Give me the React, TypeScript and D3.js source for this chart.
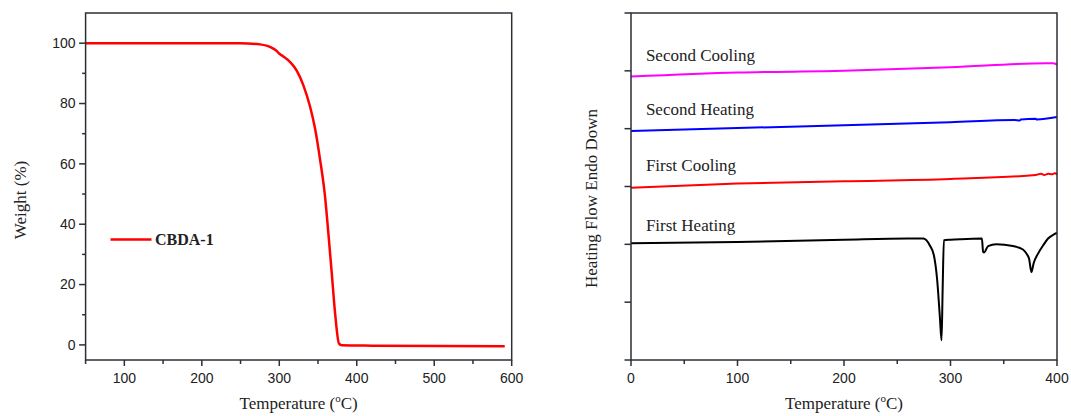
import React from "react";
import * as d3 from "d3";

// TGA data (temperature °C, weight %)
const tgaTemp = [50, 150, 249, 275, 292.3, 297.5, 299.5, 305.2, 313.8, 322.5, 331, 339.7, 346.1, 352.6, 359, 363.3, 367.7, 372, 377.1, 380.6, 420, 507.5, 591];
const tgaWeight = [100, 100, 100, 99.6, 98.2, 97.2, 96.6, 95.6, 93.8, 90.9, 86.1, 79.0, 71.8, 61.5, 49.3, 37.2, 23.9, 10.6, 0.4, -0.1, -0.25, -0.4, -0.45];

// DSC curves (temperature °C, heat flow, arbitrary offset units)
const secondCoolingT = [0, 100, 200, 300, 390, 396, 400];
const secondCoolingV = [4.9, 4.97, 5.0, 5.06, 5.13, 5.13, 5.11];
const secondHeatingT = [0, 100, 200, 300, 360, 365, 366, 380, 381, 400];
const secondHeatingV = [3.96, 4.01, 4.06, 4.11, 4.15, 4.14, 4.16, 4.17, 4.16, 4.2];
const firstCoolingT = [0, 100, 200, 300, 380, 385, 388, 392, 395, 398, 400];
const firstCoolingV = [2.98, 3.05, 3.09, 3.13, 3.2, 3.22, 3.2, 3.22, 3.21, 3.23, 3.21];
const firstHeatingT = [0, 100, 200, 260, 274.4, 280.6, 284.4, 287.5, 290, 291.6, 292.6, 293.8, 300, 310, 329.5, 330.6, 331.6, 335.3, 343, 358.5, 368, 371.3, 373.8, 376, 378, 382.2, 386.9, 391.6, 397.9, 400];
const firstHeatingV = [2.02, 2.04, 2.08, 2.1, 2.1, 1.98, 1.81, 1.38, 0.75, 0.34, 1.2, 2.07, 2.08, 2.09, 2.1, 1.87, 1.86, 1.97, 2.0, 1.97, 1.91, 1.84, 1.75, 1.52, 1.67, 1.84, 1.98, 2.1, 2.18, 2.2];

const dscLabels = ["Second Cooling", "Second Heating", "First Cooling", "First Heating"];
const dscLabelY = [5.13, 4.2, 3.23, 2.2];

const tgaXTicks = [100, 200, 300, 400, 500, 600];
const tgaXMinor = [50, 150, 250, 350, 450, 550];
const tgaYTicks = [0, 20, 40, 60, 80, 100];
const tgaYMinor = [10, 30, 50, 70, 90];
const dscXTicks = [0, 100, 200, 300, 400];
const dscXMinor = [50, 150, 250, 350];
const dscYTicks = [0, 1, 2, 3, 4, 5, 6];

const AX = "#2b2f36";
const SANS = "'Liberation Sans', Arial, sans-serif";
const SERIF = "'Liberation Serif', 'Times New Roman', serif";

function TempTitle({ x, y }: { x: number; y: number }) {
  return (
    <text x={x} y={y} textAnchor="middle" fontFamily={SERIF} fontSize={17} fill="#222">
      Temperature (<tspan fontSize={11} dy={-7}>o</tspan>
      <tspan dy={7}>C)</tspan>
    </text>
  );
}

export default function App() {
  // Left panel scales
  const lx = d3.scaleLinear().domain([50, 600]).range([85.6, 511.7]);
  const ly = d3.scaleLinear().domain([-5, 110]).range([360, 13]);
  // Right panel scales
  const rx = d3.scaleLinear().domain([0, 400]).range([631, 1057]);
  const ry = d3.scaleLinear().domain([0, 6]).range([360, 13]);

  const tgaLine = d3
    .line<number>()
    .x((_, i) => lx(tgaTemp[i]))
    .y((_, i) => ly(tgaWeight[i]))
    .curve(d3.curveMonotoneX);
  const tgaPath = tgaLine(tgaTemp) || "";

  const mk = (T: number[], V: number[]) =>
    d3
      .line<number>()
      .x((_, i) => rx(T[i]))
      .y((_, i) => ry(V[i]))
      .curve(d3.curveMonotoneX)(T) || "";

  const dscSeries = [
    { d: mk(secondCoolingT, secondCoolingV), c: "#ff00ff" },
    { d: mk(secondHeatingT, secondHeatingV), c: "#0000ff" },
    { d: mk(firstCoolingT, firstCoolingV), c: "#ff0000" },
    { d: mk(firstHeatingT, firstHeatingV), c: "#000000" },
  ];

  const [lx0, lx1] = lx.range();
  const [ly0, ly1] = ly.range();
  const [rx0, rx1] = rx.range();
  const [ry0, ry1] = ry.range();

  return (
    <svg width={1071} height={416} style={{ position: "absolute", left: 0, top: 0, background: "#fff" }}>
      {/* LEFT PANEL */}
      <path d={tgaPath} fill="none" stroke="#ff0000" strokeWidth={2.5} />
      <rect x={lx0} y={ly1} width={lx1 - lx0} height={ly0 - ly1} fill="none" stroke={AX} strokeWidth={1.5} />
      {tgaXTicks.map((t) => (
        <g key={"lxt" + t}>
          <line x1={lx(t)} x2={lx(t)} y1={ly0} y2={ly0 + 6} stroke={AX} strokeWidth={1.5} />
          <text x={lx(t)} y={ly0 + 23} textAnchor="middle" fontFamily={SANS} fontSize={14} fill="#222">
            {t}
          </text>
        </g>
      ))}
      {tgaXMinor.map((t) => (
        <line key={"lxm" + t} x1={lx(t)} x2={lx(t)} y1={ly0} y2={ly0 + 4} stroke={AX} strokeWidth={1.5} />
      ))}
      {tgaYTicks.map((t) => (
        <g key={"lyt" + t}>
          <line x1={lx0 - 6.5} x2={lx0} y1={ly(t)} y2={ly(t)} stroke={AX} strokeWidth={1.5} />
          <text x={lx0 - 10} y={ly(t)} dy="0.35em" textAnchor="end" fontFamily={SANS} fontSize={14} fill="#222">
            {t}
          </text>
        </g>
      ))}
      {tgaYMinor.map((t) => (
        <line key={"lym" + t} x1={lx0 - 3.5} x2={lx0} y1={ly(t)} y2={ly(t)} stroke={AX} strokeWidth={1.5} />
      ))}
      <TempTitle x={(lx0 + lx1) / 2} y={409} />
      <text
        transform={`translate(26,200) rotate(-90)`}
        textAnchor="middle"
        fontFamily={SERIF}
        fontSize={17}
        fill="#222"
      >
        Weight (%)
      </text>
      {/* legend */}
      <line x1={110.5} x2={151.5} y1={239.5} y2={239.5} stroke="#ff0000" strokeWidth={2.5} />
      <text x={155} y={245} fontFamily={SERIF} fontSize={16} fontWeight="bold" fill="#222">
        CBDA-1
      </text>

      {/* RIGHT PANEL */}
      {dscSeries.map((s, i) => (
        <path key={"dsc" + i} d={s.d} fill="none" stroke={s.c} strokeWidth={2} />
      ))}
      <rect x={rx0} y={ry1} width={rx1 - rx0} height={ry0 - ry1} fill="none" stroke={AX} strokeWidth={1.5} />
      {dscXTicks.map((t) => (
        <g key={"rxt" + t}>
          <line x1={rx(t)} x2={rx(t)} y1={ry0} y2={ry0 + 6} stroke={AX} strokeWidth={1.5} />
          <text x={rx(t)} y={ry0 + 23} textAnchor="middle" fontFamily={SANS} fontSize={14} fill="#222">
            {t}
          </text>
        </g>
      ))}
      {dscXMinor.map((t) => (
        <line key={"rxm" + t} x1={rx(t)} x2={rx(t)} y1={ry0} y2={ry0 + 4} stroke={AX} strokeWidth={1.5} />
      ))}
      {dscYTicks.map((t) => (
        <line key={"ryt" + t} x1={rx0 - 6.5} x2={rx0} y1={ry(t)} y2={ry(t)} stroke={AX} strokeWidth={1.5} />
      ))}
      {dscLabels.map((l, i) => (
        <text key={l} x={rx(14)} y={ry(dscLabelY[i]) - 2} fontFamily={SERIF} fontSize={17} fill="#222">
          {l}
        </text>
      ))}
      <TempTitle x={(rx0 + rx1) / 2} y={409} />
      <text
        transform={`translate(597,${(ry0 + ry1) / 2 + 12}) rotate(-90)`}
        textAnchor="middle"
        fontFamily={SERIF}
        fontSize={17}
        fill="#222"
      >
        Heating Flow Endo Down
      </text>
    </svg>
  );
}
